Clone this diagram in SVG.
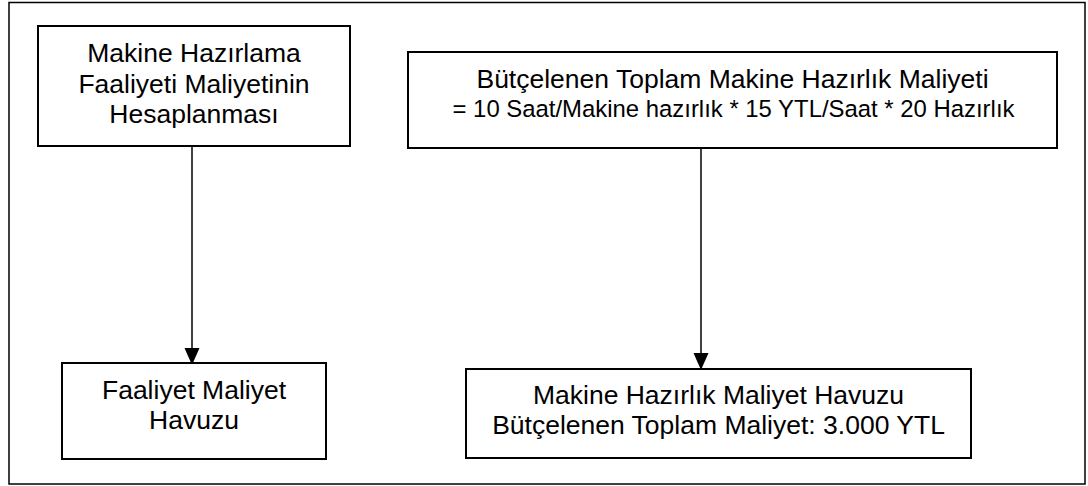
<svg xmlns="http://www.w3.org/2000/svg" width="1088" height="486" viewBox="0 0 1088 486">
  <style>
    .frame { fill: #ffffff; stroke: #000000; stroke-width: 1.5; }
    .box { fill: #ffffff; stroke: #000000; stroke-width: 2; }
    .link { fill: none; stroke: #000000; stroke-width: 1.5; }
    .lbl { font-family: "Liberation Sans", Arial, sans-serif; font-size: 26.5px; fill: #000000; text-anchor: middle; }
    .sub { font-size: 23.9px; }
  </style>
  <defs>
    <marker id="arrow" markerUnits="userSpaceOnUse" markerWidth="15" markerHeight="18" refX="15" refY="7.5" orient="auto" viewBox="0 0 15 18">
      <path d="M0,0 L17,7.5 L0,15 Z" fill="#000000"/>
    </marker>
  </defs>

  <!-- outer border -->
  <rect class="frame" x="9" y="2.5" width="1076" height="481.5"/>

  <g id="connectors">
    <line class="link" x1="192" y1="146" x2="192" y2="363" marker-end="url(#arrow)"/>
    <line class="link" x1="701" y1="148" x2="701" y2="368" marker-end="url(#arrow)"/>
  </g>

  <g id="node-hazirlama">
    <rect class="box" x="38" y="26" width="312" height="120"/>
    <text class="lbl" x="194" y="62">Makine Hazırlama</text>
    <text class="lbl" x="194" y="93">Faaliyeti Maliyetinin</text>
    <text class="lbl" x="194" y="123">Hesaplanması</text>
  </g>

  <g id="node-butce">
    <rect class="box" x="408" y="52" width="649" height="96"/>
    <text class="lbl" x="732.5" y="88">Bütçelenen Toplam Makine Hazırlık Maliyeti</text>
    <text class="lbl sub" x="733.5" y="117">= 10 Saat/Makine hazırlık * 15 YTL/Saat * 20 Hazırlık</text>
  </g>

  <g id="node-havuz">
    <rect class="box" x="62" y="363" width="264" height="96"/>
    <text class="lbl" x="194" y="399">Faaliyet Maliyet</text>
    <text class="lbl" x="194" y="429">Havuzu</text>
  </g>

  <g id="node-makine-havuz">
    <rect class="box" x="466" y="369" width="505" height="89"/>
    <text class="lbl" x="718.5" y="404">Makine Hazırlık Maliyet Havuzu</text>
    <text class="lbl" x="718.5" y="434">Bütçelenen Toplam Maliyet: 3.000 YTL</text>
  </g>
</svg>
